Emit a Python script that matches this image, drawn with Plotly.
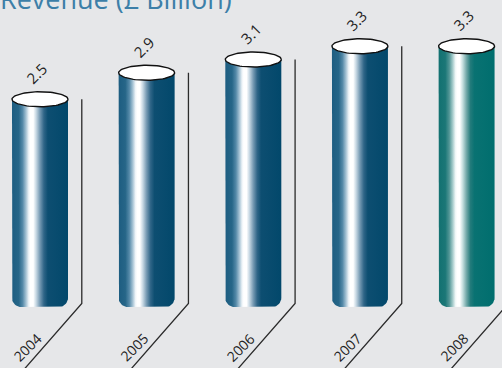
import numpy as np
import plotly.graph_objects as go

# --- data -------------------------------------------------------------
years = ["2004", "2005", "2006", "2007", "2008"]
revenue = [2.5, 2.9, 3.1, 3.3, 3.3]
chart_title = "Revenue (£ Billion)"

# --- geometry / style -------------------------------------------------
W, H = 502, 368
X_RANGE = [-0.375, 4.332]
Y_RANGE = [-1.556, 3.998]
PX_X = W / (X_RANGE[1] - X_RANGE[0])   # pixels per x unit
PX_Y = H / (Y_RANGE[1] - Y_RANGE[0])   # pixels per y unit

BASE = -0.635            # floor of the cylinders
HALF_W = 28 / PX_X       # cylinder half width
CAP_H = 7.5 / PX_Y       # half height of the top ellipse
R_X, R_Y = 9 / PX_X, 9 / PX_Y   # bottom corner rounding
BG = "#e6e7e9"
FONT = "Open Sans"

BLUE = [
    [0.00, "#1d5d81"], [0.12, "#266688"], [0.19, "#5489a8"],
    [0.25, "#a3c1d3"], [0.30, "#eef4f8"], [0.33, "#ffffff"],
    [0.38, "#ffffff"], [0.43, "#c9d9e4"], [0.50, "#7599b2"],
    [0.57, "#2f6587"], [0.64, "#0d4e71"], [1.00, "#02486b"],
]
TEAL = [
    [0.00, "#137171"], [0.12, "#1b7777"], [0.19, "#519595"],
    [0.25, "#a2c9c9"], [0.30, "#eef6f6"], [0.33, "#ffffff"],
    [0.38, "#ffffff"], [0.43, "#c6dfdf"], [0.50, "#70a7a7"],
    [0.57, "#237b7b"], [0.64, "#097272"], [1.00, "#006e6e"],
]


def body_outline(cx, top):
    """Cylinder side with rounded bottom corners."""
    xs, ys = [cx - HALF_W], [top]
    t = np.linspace(np.pi, 1.5 * np.pi, 12)
    xs += list(cx - HALF_W + R_X + R_X * np.cos(t))
    ys += list(BASE + R_Y + R_Y * np.sin(t))
    t = np.linspace(1.5 * np.pi, 2 * np.pi, 12)
    xs += list(cx + HALF_W - R_X + R_X * np.cos(t))
    ys += list(BASE + R_Y + R_Y * np.sin(t))
    xs += [cx + HALF_W, cx - HALF_W]
    ys += [top, top]
    return xs, ys


def ellipse(cx, cy):
    t = np.linspace(0, 2 * np.pi, 80)
    return cx + HALF_W * np.cos(t), cy + CAP_H * np.sin(t)


fig = go.Figure()
annotations = []

for i, (yr, val) in enumerate(zip(years, revenue)):
    scale = TEAL if i == len(years) - 1 else BLUE

    # divider: vertical stroke then a run slanting down-left below the floor
    lx = i + 41.8 / PX_X
    ly_bottom = -0.583
    drop = ly_bottom - (Y_RANGE[0] - 0.8)          # positive height
    run = drop * PX_Y * (57 / 65) / PX_X            # horizontal travel
    fig.add_trace(go.Scatter(
        x=[lx, lx, lx - run],
        y=[val, ly_bottom, ly_bottom - drop],
        mode="lines", line=dict(color="#2b2b2b", width=1.3),
        hoverinfo="skip", showlegend=False,
    ))

    # cylinder body
    bx, by = body_outline(i, val)
    fig.add_trace(go.Scatter(
        x=bx, y=by, mode="lines", fill="toself",
        line=dict(width=0),
        fillgradient=dict(type="horizontal", colorscale=scale),
        hoverinfo="skip", showlegend=False,
    ))

    # top cap
    ex, ey = ellipse(i, val)
    fig.add_trace(go.Scatter(
        x=ex, y=ey, mode="lines", fill="toself", fillcolor="white",
        line=dict(color="#111111", width=1.4),
        hoverinfo="skip", showlegend=False,
    ))

    annotations.append(dict(
        x=i - 3 / PX_X, y=val + 26 / PX_Y, xref="x", yref="y",
        text=f"{val}", showarrow=False, textangle=-45,
        font=dict(family=FONT, size=15, color="#222222"),
    ))
    annotations.append(dict(
        x=i - 13 / PX_X, y=-1.239, xref="x", yref="y",
        text=yr, showarrow=False, textangle=-45,
        font=dict(family=FONT, size=14, color="#222222"),
    ))

annotations.append(dict(
    x=-0.004, y=1.0054, xref="paper", yref="paper",
    xanchor="left", yanchor="middle", text=chart_title, showarrow=False,
    font=dict(family=FONT, size=27, color="#3d7fa8"),
))

fig.update_layout(
    width=W, height=H,
    margin=dict(l=0, r=0, t=0, b=0),
    paper_bgcolor=BG, plot_bgcolor=BG,
    xaxis=dict(range=X_RANGE, visible=False, fixedrange=True),
    yaxis=dict(range=Y_RANGE, visible=False, fixedrange=True),
    annotations=annotations,
    showlegend=False,
)

fig.write_html("out.html")
